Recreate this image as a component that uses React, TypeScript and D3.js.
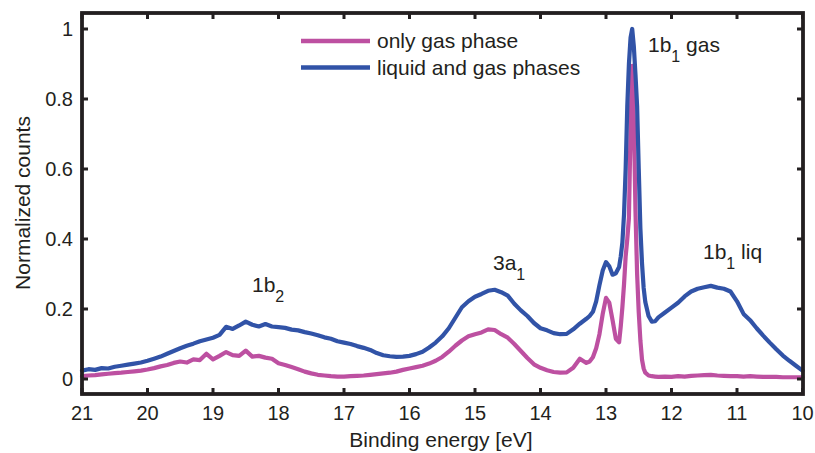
import React from 'react';
import * as d3 from 'd3';

// binding energy grid [eV]
const energy = [
  21.0, 20.9, 20.8, 20.7, 20.6, 20.5, 20.4, 20.3, 20.2, 20.1,
  20.0, 19.9, 19.8, 19.7, 19.6, 19.5, 19.4, 19.3, 19.2, 19.1,
  19.0, 18.9, 18.8, 18.7, 18.6, 18.5, 18.4, 18.3, 18.2, 18.1,
  18.0, 17.9, 17.8, 17.7, 17.6, 17.5, 17.4, 17.3, 17.2, 17.1,
  17.0, 16.9, 16.8, 16.7, 16.6, 16.5, 16.4, 16.3, 16.2, 16.1,
  16.0, 15.9, 15.8, 15.7, 15.6, 15.5, 15.4, 15.3, 15.2, 15.1,
  15.0, 14.9, 14.8, 14.7, 14.6, 14.5, 14.4, 14.3, 14.2, 14.1,
  14.0, 13.9, 13.8, 13.7, 13.6, 13.5, 13.4, 13.3, 13.25, 13.2,
  13.15, 13.1, 13.05, 13.0, 12.95, 12.9, 12.85, 12.8, 12.775, 12.75,
  12.725, 12.7, 12.675, 12.65, 12.625, 12.6, 12.575, 12.55, 12.525, 12.5,
  12.475, 12.45, 12.425, 12.4, 12.35, 12.3, 12.25, 12.2, 12.1, 12.0,
  11.9, 11.8, 11.7, 11.6, 11.5, 11.4, 11.3, 11.2, 11.1, 11.0,
  10.9, 10.8, 10.7, 10.6, 10.5, 10.4, 10.3, 10.2, 10.1, 10.0,
];

const gasOnly = [
  0.008, 0.010, 0.011, 0.013, 0.015, 0.017, 0.018, 0.020, 0.022, 0.024,
  0.027, 0.031, 0.036, 0.040, 0.046, 0.050, 0.047, 0.056, 0.054, 0.072,
  0.056, 0.066, 0.077, 0.068, 0.066, 0.081, 0.064, 0.066, 0.061, 0.058,
  0.045, 0.040, 0.034, 0.028, 0.021, 0.016, 0.012, 0.010, 0.008, 0.007,
  0.007, 0.008, 0.009, 0.010, 0.012, 0.014, 0.016, 0.018, 0.021, 0.026,
  0.030, 0.034, 0.038, 0.044, 0.052, 0.063, 0.078, 0.095, 0.110, 0.122,
  0.128, 0.133, 0.142, 0.140, 0.128, 0.118, 0.100, 0.080, 0.060, 0.042,
  0.032, 0.025, 0.020, 0.018, 0.019, 0.032, 0.058, 0.046, 0.050, 0.062,
  0.088, 0.128, 0.186, 0.232, 0.218, 0.168, 0.115, 0.105, 0.150, 0.205,
  0.270, 0.350, 0.400, 0.460, 0.720, 0.895, 0.740, 0.480, 0.300, 0.190,
  0.110, 0.055, 0.030, 0.018, 0.010, 0.008, 0.007, 0.006, 0.007, 0.006,
  0.008, 0.007, 0.009, 0.010, 0.011, 0.012, 0.010, 0.009, 0.008, 0.008,
  0.007, 0.008, 0.007, 0.006, 0.006, 0.006, 0.005, 0.005, 0.005, 0.005,
];

const liquidAndGas = [
  0.024, 0.028, 0.026, 0.031, 0.030, 0.035, 0.038, 0.041, 0.044, 0.047,
  0.052, 0.058, 0.064, 0.072, 0.080, 0.088, 0.095, 0.101, 0.108, 0.113,
  0.118, 0.126, 0.149, 0.143, 0.153, 0.164, 0.155, 0.150, 0.157, 0.150,
  0.148, 0.146, 0.141, 0.139, 0.134, 0.130, 0.125, 0.119, 0.115, 0.108,
  0.104, 0.100, 0.094, 0.089, 0.083, 0.074, 0.068, 0.065, 0.063, 0.064,
  0.066, 0.071, 0.078, 0.090, 0.104, 0.122, 0.145, 0.175, 0.205, 0.222,
  0.235, 0.243, 0.252, 0.255, 0.248, 0.238, 0.215, 0.196, 0.180, 0.160,
  0.145, 0.139, 0.131, 0.128, 0.129, 0.142, 0.158, 0.172, 0.180, 0.192,
  0.222, 0.268, 0.310, 0.334, 0.322, 0.298, 0.302, 0.320, 0.350, 0.390,
  0.470, 0.600, 0.780, 0.900, 0.975, 1.000, 0.950, 0.870, 0.780, 0.600,
  0.430, 0.330, 0.260, 0.220, 0.180, 0.164, 0.165, 0.176, 0.190, 0.204,
  0.218, 0.236, 0.250, 0.258, 0.262, 0.266, 0.261, 0.258, 0.250, 0.222,
  0.186, 0.168, 0.145, 0.124, 0.104, 0.085, 0.067, 0.052, 0.038, 0.024,
];

const xTicks = [21, 20, 19, 18, 17, 16, 15, 14, 13, 12, 11, 10];
const yTicks = [0, 0.2, 0.4, 0.6, 0.8, 1];

const seriesNames = ['only gas phase', 'liquid and gas phases'];
const seriesColors = ['#BD50A1', '#3153A7'];

const W = 815;
const H = 453;
const frame = { left: 82, right: 803, top: 13, bottom: 394 };
const ink = '#231F20';
const font = 'Helvetica, Arial, "Liberation Sans", sans-serif';

export default function App() {
  const x = d3.scaleLinear().domain([21, 10]).range([frame.left, frame.right - 0.5]);
  const y = d3.scaleLinear().domain([0, 1]).range([379, 29]);

  const line = d3
    .line<number>()
    .x((_, i) => x(energy[i]))
    .y((d) => y(d))
    .curve(d3.curveLinear);

  const series = [gasOnly, liquidAndGas];
  const tickLen = 6;

  // peak label with subscript
  const peakLabel = (px: number, py: number, main: string, sub: string, rest: string) => (
    <text x={px} y={py} fontSize={21} fill={ink} fontFamily={font}>
      {main}
      <tspan fontSize={16} dy={10}>{sub}</tspan>
      <tspan dy={-10}>{rest}</tspan>
    </text>
  );

  return (
    <svg
      width={W}
      height={H}
      style={{ position: 'absolute', left: 0, top: 0, background: '#fff' }}
    >
      {/* curves */}
      {series.map((s, k) => (
        <path
          key={k}
          d={line(s) || ''}
          fill="none"
          stroke={seriesColors[k]}
          strokeWidth={4.2}
          strokeLinejoin="round"
          strokeLinecap="round"
        />
      ))}

      {/* frame */}
      <rect
        x={frame.left}
        y={frame.top}
        width={frame.right - frame.left}
        height={frame.bottom - frame.top}
        fill="none"
        stroke={ink}
        strokeWidth={3.8}
      />

      {/* x ticks, mirrored */}
      {xTicks.map((t) => (
        <g key={'x' + t}>
          <line x1={x(t)} x2={x(t)} y1={frame.bottom} y2={frame.bottom - tickLen} stroke={ink} strokeWidth={3} />
          <line x1={x(t)} x2={x(t)} y1={frame.top} y2={frame.top + tickLen} stroke={ink} strokeWidth={3} />
          <text x={x(t)} y={420} textAnchor="middle" fontSize={20} fill={ink} fontFamily={font}>
            {t}
          </text>
        </g>
      ))}

      {/* y ticks, mirrored */}
      {yTicks.map((t) => (
        <g key={'y' + t}>
          <line x1={frame.left} x2={frame.left + tickLen} y1={y(t)} y2={y(t)} stroke={ink} strokeWidth={3} />
          <line x1={frame.right} x2={frame.right - tickLen} y1={y(t)} y2={y(t)} stroke={ink} strokeWidth={3} />
          <text x={73} y={y(t) + 7} textAnchor="end" fontSize={20} fill={ink} fontFamily={font}>
            {t}
          </text>
        </g>
      ))}

      {/* axis titles */}
      <text x={441} y={447} textAnchor="middle" fontSize={21} fill={ink} fontFamily={font}>
        Binding energy [eV]
      </text>
      <text
        transform={`translate(30,203) rotate(-90)`}
        textAnchor="middle"
        fontSize={21}
        fill={ink}
        fontFamily={font}
      >
        Normalized counts
      </text>

      {/* legend */}
      {seriesNames.map((n, k) => (
        <g key={n}>
          <line x1={301} x2={370} y1={41 + k * 26.5} y2={41 + k * 26.5} stroke={seriesColors[k]} strokeWidth={4.5} />
          <text x={377} y={48 + k * 26.5} fontSize={21} fill={ink} fontFamily={font}>
            {n}
          </text>
        </g>
      ))}

      {/* peak annotations */}
      {peakLabel(252, 292, '1b', '2', '')}
      {peakLabel(493, 270, '3a', '1', '')}
      {peakLabel(648, 52, '1b', '1', '\u00a0gas')}
      {peakLabel(703, 259, '1b', '1', '\u00a0liq')}
    </svg>
  );
}
